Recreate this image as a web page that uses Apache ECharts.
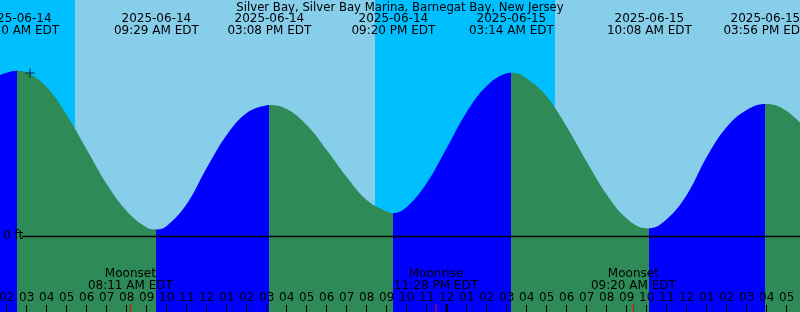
<!DOCTYPE html>
<html><head><meta charset="utf-8">
<script src="https://cdn.jsdelivr.net/npm/echarts@6/dist/echarts.min.js"></script>
<style>html,body{margin:0;padding:0;background:#87CEEB}#c{width:800px;height:312px}</style>
</head><body><div id="c"></div>
<script>
// All times: hours since 2025-06-14 00:00 EDT
const chartTitle = 'Silver Bay, Silver Bay Marina, Barnegat Bay, New Jersey';
const viewStart = 1.665, viewEnd = 41.665;
const feetMin = -0.304, feetMax = 0.944;

const tideHours = [1.6, 2, 3, 4, 5, 6, 7, 8, 9, 10, 11, 12, 13, 14, 15, 16, 17, 18, 19, 20, 21,
  22, 23, 24, 25, 26, 27, 28, 29, 30, 31, 32, 33, 34, 35, 36, 37, 38, 39, 40, 41, 42];
const tideFeet = [0.642, 0.653, 0.654, 0.596, 0.484, 0.346, 0.208, 0.100, 0.034, 0.040, 0.128,
  0.272, 0.404, 0.492, 0.523, 0.508, 0.444, 0.344, 0.236, 0.144, 0.098,
  0.116, 0.212, 0.352, 0.496, 0.600, 0.651, 0.630, 0.558, 0.437, 0.297, 0.166, 0.070, 0.031,
  0.067, 0.164, 0.316, 0.436, 0.504, 0.528, 0.500, 0.424];

const extremeHours = [2.5, 9.483, 15.133, 21.333, 27.233, 34.133, 39.933];
const extremeFeet = [0.661, 0.026, 0.524, 0.092, 0.653, 0.031, 0.528];
const extremeTypes = ['high', 'low', 'high', 'low', 'high', 'low', 'high'];
const extremeDates = ['2025-06-14', '2025-06-14', '2025-06-14', '2025-06-14', '2025-06-15', '2025-06-15', '2025-06-15'];
const extremeTimes = ['02:30 AM EDT', '09:29 AM EDT', '03:08 PM EDT', '09:20 PM EDT', '03:14 AM EDT', '10:08 AM EDT', '03:56 PM EDT'];

const sunriseHours = [5.417, 29.417];
const sunsetHours = [20.417];

const moonNames = ['Moonset', 'Moonrise', 'Moonset'];
const moonHours = [8.183, 23.467, 33.333];
const moonTimes = ['08:11 AM EDT', '11:28 PM EDT', '09:20 AM EDT'];

const hourTicks = [2, 3, 4, 5, 6, 7, 8, 9, 10, 11, 12, 13, 14, 15, 16, 17, 18, 19, 20, 21, 22, 23,
  24, 25, 26, 27, 28, 29, 30, 31, 32, 33, 34, 35, 36, 37, 38, 39, 40, 41];
const midnightHours = [24];
const nowMark = [3.165, 0.652];
const zeroLineStart = 2.75;

const FONT = '"DejaVu Sans", sans-serif';
const RISING = '#0000FF', FALLING = '#2E8B57', NIGHT = '#00BFFF', DAY = '#87CEEB';

// merge curve points
const pts = [];
tideHours.forEach((h, i) => pts.push([h, tideFeet[i]]));
extremeHours.forEach((h, i) => pts.push([h, extremeFeet[i]]));
pts.sort((a, b) => a[0] - b[0]);

// colour pieces: rising (to a high) blue, falling (to a low) green
const pieces = [];
pieces.push({ lt: extremeHours[0], color: extremeTypes[0] === 'high' ? RISING : FALLING });
for (let i = 0; i < extremeHours.length - 1; i++) {
  pieces.push({ gte: extremeHours[i], lt: extremeHours[i + 1], color: extremeTypes[i + 1] === 'high' ? RISING : FALLING });
}
const last = extremeHours.length - 1;
pieces.push({ gte: extremeHours[last], color: extremeTypes[last] === 'high' ? FALLING : RISING });

// night areas
const nightAreas = [];
const sunEvents = [];
sunriseHours.forEach(h => sunEvents.push([h, 'rise']));
sunsetHours.forEach(h => sunEvents.push([h, 'set']));
sunEvents.sort((a, b) => a[0] - b[0]);
let nightStart = sunEvents[0][1] === 'rise' ? viewStart : null;
sunEvents.forEach(e => {
  if (e[1] === 'rise' && nightStart !== null) { nightAreas.push([{ xAxis: nightStart }, { xAxis: e[0] }]); nightStart = null; }
  if (e[1] === 'set') nightStart = e[0];
});
if (nightStart !== null) nightAreas.push([{ xAxis: nightStart }, { xAxis: viewEnd }]);

const tickItems = [];
moonHours.forEach(h => tickItems.push([h, 'moon']));
midnightHours.forEach(h => tickItems.push([h, 'midnight']));

function txt(x, y, text) {
  return { type: 'text', x: x, y: y, style: { text: text, font: '12px ' + FONT, fill: '#000',
    align: 'center', verticalAlign: 'top', textAlign: 'center', textVerticalAlign: 'top', lineHeight: 12 } };
}

const chart = echarts.init(document.getElementById('c'));
chart.setOption({
  animation: false,
  backgroundColor: DAY,
  title: { text: chartTitle, left: 'center', top: 2, padding: 0,
    textStyle: { fontFamily: FONT, fontSize: 11.7, fontWeight: 'normal', color: '#000' } },
  grid: { left: 0, right: 0, top: 0, bottom: 0, outerBoundsMode: 'none', containLabel: false },
  xAxis: { type: 'value', min: viewStart, max: viewEnd, z: 10, position: 'bottom',
    axisLine: { show: false, onZero: false }, splitLine: { show: false },
    axisTick: { show: true, inside: true, length: 7, customValues: hourTicks, lineStyle: { color: '#000', width: 1 } },
    axisLabel: { show: true, inside: true, margin: 8, customValues: hourTicks, hideOverlap: false,
      fontFamily: FONT, fontSize: 12, color: '#000',
      formatter: v => String((Math.round(v) % 12) || 12).padStart(2, '0') } },
  yAxis: { type: 'value', min: feetMin, max: feetMax, z: 10,
    axisLine: { show: false, onZero: false }, splitLine: { show: false }, axisTick: { show: false },
    axisLabel: { show: true, inside: true, margin: 3, customValues: [0],
      fontFamily: FONT, fontSize: 12, color: '#000', formatter: v => v + ' ft' } },
  visualMap: { show: false, type: 'piecewise', dimension: 0, seriesIndex: 0, pieces: pieces },
  series: [
    { type: 'line', data: pts, smooth: 0.4, symbol: 'none', z: 2,
      lineStyle: { width: 0 }, areaStyle: { origin: 'start', opacity: 1 },
      markArea: { silent: true, z: 1, itemStyle: { color: NIGHT, opacity: 1 }, data: nightAreas },
      markLine: { silent: true, symbol: 'none', z: 3, label: { show: false },
        lineStyle: { color: '#000', width: 1.3, type: 'solid' },
        data: [[{ coord: [zeroLineStart, 0] }, { coord: [viewEnd, 0] }]] } },
    { type: 'custom', z: 5, data: extremeHours.map((h, i) => [h, extremeFeet[i]]),
      renderItem: (p, api) => txt(api.coord([api.value(0), 0])[0], 13, extremeDates[p.dataIndex] + '\n' + extremeTimes[p.dataIndex]) },
    { type: 'custom', z: 5, data: moonHours.map(h => [h, 0]),
      renderItem: (p, api) => txt(api.coord([api.value(0), 0])[0], 268, moonNames[p.dataIndex] + '\n' + moonTimes[p.dataIndex]) },
    { type: 'custom', z: 11, data: tickItems.map(t => [t[0], feetMin]),
      renderItem: (p, api) => {
        const c = api.coord([api.value(0), feetMin]);
        const kind = tickItems[p.dataIndex][1];
        return { type: 'line', shape: { x1: c[0], y1: c[1] - 8, x2: c[0], y2: c[1] },
          style: { stroke: kind === 'moon' ? '#FF0000' : '#000', lineWidth: kind === 'moon' ? 1 : 2 } };
      } },
    { type: 'scatter', z: 7, data: [nowMark], symbol: 'path://M4,0h1v9h-1zM0,4h9v1h-9z', symbolSize: 9,
      itemStyle: { color: '#000' } }
  ]
});
</script></body></html>
